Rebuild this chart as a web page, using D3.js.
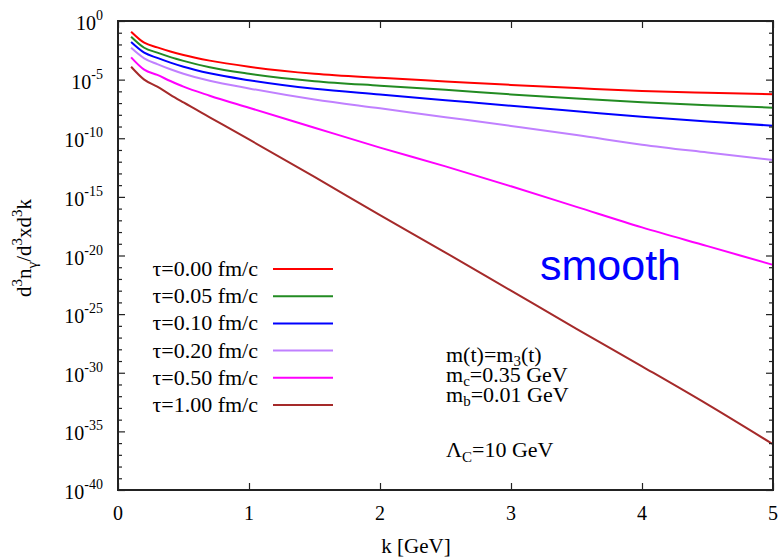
<!DOCTYPE html>
<html><head><meta charset="utf-8">
<script src="https://cdn.jsdelivr.net/npm/d3@7/dist/d3.min.js"></script>
<style>body{margin:0;background:#fff}svg{display:block}</style>
</head><body>
<svg id="c" width="782" height="559"></svg>
<script>
// ---- data (stored as log10 of d3n/d3xd3k) ----
const kValues = [0.1, 0.2, 0.3, 0.4, 0.5, 0.7, 1.0, 1.5, 2.0, 2.5, 3.0, 3.5, 4.0, 4.5, 5.0];
const seriesLabels = ["τ=0.00 fm/c", "τ=0.05 fm/c", "τ=0.10 fm/c", "τ=0.20 fm/c", "τ=0.50 fm/c", "τ=1.00 fm/c"];
const seriesColors = ["#ff0000", "#228b22", "#0000ff", "#c080ff", "#ff00ff", "#a52a2a"];
const logTau000 = [-0.91, -1.85, -2.25, -2.60, -2.90, -3.38, -3.90, -4.50, -4.85, -5.15, -5.45, -5.72, -5.97, -6.12, -6.25];
const logTau005 = [-1.34, -2.28, -2.70, -3.08, -3.40, -3.95, -4.50, -5.13, -5.52, -5.87, -6.26, -6.62, -6.94, -7.19, -7.39];
const logTau010 = [-1.79, -2.70, -3.15, -3.55, -3.90, -4.46, -5.05, -5.78, -6.27, -6.75, -7.23, -7.70, -8.17, -8.57, -8.93];
const logTau020 = [-2.28, -3.18, -3.68, -4.12, -4.50, -5.09, -5.75, -6.70, -7.45, -8.20, -8.95, -9.72, -10.55, -11.22, -11.86];
const logTau050 = [-3.10, -4.15, -4.60, -5.12, -5.60, -6.37, -7.40, -9.10, -10.80, -12.40, -14.10, -15.85, -17.60, -19.20, -20.80];
const logTau100 = [-3.90, -5.00, -5.60, -6.30, -6.95, -8.21, -10.10, -13.30, -16.55, -19.75, -23.00, -26.25, -29.45, -32.70, -36.10];
const seriesLogs = [logTau000, logTau005, logTau010, logTau020, logTau050, logTau100];
const xTicks = [0, 1, 2, 3, 4, 5];
const yMajorExp = [0, -5, -10, -15, -20, -25, -30, -35, -40];
const yMinorExp = d3.range(0, -41, -1).filter(e => e % 5 !== 0);
const notes = [["m(t)=m", "3", "(t)"], ["m", "c", "=0.35 GeV"], ["m", "b", "=0.01 GeV"]];

// ---- layout ----
const L = 118, R = 773, T = 21, B = 490;
const svg = d3.select("#c");
const x = d3.scaleLinear().domain([0, 5]).range([L, R]);
const y = d3.scaleLog().domain([1e-40, 1]).range([B, T]);
const serif = "'Liberation Serif','Times New Roman',serif";
const axCol = "#222";

// curves
const line = d3.line().x(d => x(d[0])).y(d => y(d[1])).curve(d3.curveMonotoneX);
seriesLogs.forEach((s, i) => {
  const pts = kValues.map((k, j) => [k, Math.pow(10, s[j])]);
  svg.append("path").attr("d", line(pts)).attr("fill", "none")
    .attr("stroke", seriesColors[i]).attr("stroke-width", 2);
});

// axes (ticks inward, mirrored)
function styleAxis(g) {
  g.select(".domain").remove();
  g.selectAll("line").attr("stroke", axCol).attr("stroke-width", 1.2);
  g.selectAll("text").remove();
}
svg.append("g").attr("transform", `translate(0,${B})`).call(d3.axisBottom(x).tickValues(xTicks).tickSize(-7)).call(styleAxis);
svg.append("g").attr("transform", `translate(0,${T})`).call(d3.axisTop(x).tickValues(xTicks).tickSize(-7)).call(styleAxis);
const maj = yMajorExp.map(e => Math.pow(10, e)), mnr = yMinorExp.map(e => Math.pow(10, e));
svg.append("g").attr("transform", `translate(${L},0)`).call(d3.axisLeft(y).tickValues(maj).tickSize(-7)).call(styleAxis);
svg.append("g").attr("transform", `translate(${L},0)`).call(d3.axisLeft(y).tickValues(mnr).tickSize(-4)).call(styleAxis);
svg.append("g").attr("transform", `translate(${R},0)`).call(d3.axisRight(y).tickValues(maj).tickSize(-7)).call(styleAxis);
svg.append("g").attr("transform", `translate(${R},0)`).call(d3.axisRight(y).tickValues(mnr).tickSize(-4)).call(styleAxis);
svg.append("rect").attr("x", L).attr("y", T).attr("width", R - L).attr("height", B - T)
  .attr("fill", "none").attr("stroke", axCol).attr("stroke-width", 2);

// x tick labels
svg.selectAll(".xl").data(xTicks).enter().append("text")
  .attr("x", d => x(d)).attr("y", 520).attr("text-anchor", "middle")
  .attr("font-family", serif).attr("font-size", 20).attr("fill", "#000").text(d => d);

// y tick labels 10^e
yMajorExp.forEach(e => {
  const t = svg.append("text").attr("x", 103).attr("y", y(Math.pow(10, e)) + 9)
    .attr("text-anchor", "end").attr("font-family", serif).attr("font-size", 20).attr("fill", "#000");
  t.append("tspan").text("10");
  t.append("tspan").attr("dy", -10).attr("font-size", 14).text(e === 0 ? "0" : "-" + (-e));
});

// axis titles
svg.append("text").attr("x", 416).attr("y", 553).attr("text-anchor", "middle")
  .attr("font-family", serif).attr("font-size", 21).text("k [GeV]");
const yt = svg.append("text").attr("transform", "translate(31,248) rotate(-90)").attr("text-anchor", "middle")
  .attr("font-family", serif).attr("font-size", 21);
[["d", 0], ["3", -1], ["n", 0], ["γ", 1], ["/d", 0], ["3", -1], ["xd", 0], ["3", -1], ["k", 0]].forEach(([s, m], i, arr) => {
  const prev = i > 0 ? arr[i - 1][1] : 0;
  const dy = (m - prev) === 0 ? 0 : (m === -1 ? -9 : m === 1 ? 6 : (prev === -1 ? 9 : -6));
  const ts = yt.append("tspan").attr("dy", dy).text(s);
  if (m !== 0) ts.attr("font-size", 15);
});

// legend
seriesLabels.forEach((lab, i) => {
  const ly = 269 + i * 27.2;
  svg.append("text").attr("x", 258).attr("y", ly + 7).attr("text-anchor", "end")
    .attr("font-family", serif).attr("font-size", 22).attr("fill", "#000").text(lab);
  svg.append("line").attr("x1", 273).attr("x2", 333).attr("y1", ly).attr("y2", ly)
    .attr("stroke", seriesColors[i]).attr("stroke-width", 2);
});

// annotations
svg.append("text").attr("x", 540).attr("y", 280).attr("font-family", "'Liberation Sans',Arial,sans-serif")
  .attr("font-size", 43).attr("fill", "#0000ff").text("smooth");
notes.forEach((n, i) => {
  const t = svg.append("text").attr("x", 446).attr("y", 362 + i * 20)
    .attr("font-family", serif).attr("font-size", 22).attr("fill", "#000");
  t.append("tspan").text(n[0]);
  t.append("tspan").attr("dy", 4).attr("font-size", 15).text(n[1]);
  t.append("tspan").attr("dy", -4).text(n[2]);
});
const lam = svg.append("text").attr("x", 446).attr("y", 457)
  .attr("font-family", serif).attr("font-size", 22).attr("fill", "#000");
lam.append("tspan").text("Λ");
lam.append("tspan").attr("dy", 5).attr("font-size", 15).text("C");
lam.append("tspan").attr("dy", -5).text("=10 GeV");
</script>
</body></html>
